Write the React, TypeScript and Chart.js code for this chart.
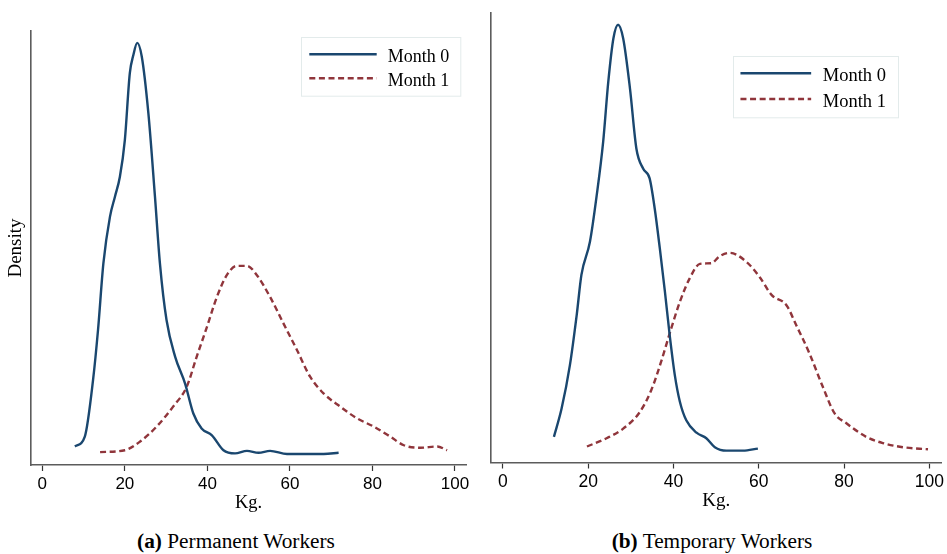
import React, { useEffect, useRef } from "react";
import { Chart, registerables } from "chart.js";

Chart.register(...registerables);

// ---------- data ----------
const xTickValues = [0, 20, 40, 60, 80, 100];
const seriesNames = ["Month 0", "Month 1"];

// (a) Permanent workers — kernel density estimates
const permM0Kg = [7.9, 10.3, 12.3, 13.5, 14.8, 16.4, 17.6, 18.8, 20, 21.2, 22.05, 23.0, 24.1, 25.7, 27.3, 28.5, 30.1, 32.2, 34.6, 36.6, 38.6, 41.1, 43.9, 46.7, 49.6, 52.4, 55.2, 59.3, 68.2, 71.8];
const permM0Den = [0.0012, 0.0028, 0.0119, 0.0199, 0.0306, 0.0381, 0.0413, 0.0445, 0.0504, 0.0611, 0.0640, 0.0660, 0.0638, 0.0547, 0.0413, 0.0306, 0.0215, 0.0156, 0.0113, 0.0065, 0.0041, 0.0030, 0.0006, 0.0001, 0.0005, 0.0002, 0.0005, 0.0000, 0.0000, 0.0002];
const permM1Kg = [14.0, 20, 23.7, 27.7, 31.7, 35, 37.4, 39.9, 42.3, 44.7, 47.1, 49.6, 52, 55.2, 58.4, 61.7, 64.9, 68.2, 72.2, 76.3, 80.3, 84.3, 87.6, 91.6, 95.7, 98.1];
const permM1Den = [0.0003, 0.0006, 0.0020, 0.0044, 0.0076, 0.0108, 0.0156, 0.0204, 0.0252, 0.0287, 0.0302, 0.0302, 0.0287, 0.0252, 0.0210, 0.0167, 0.0124, 0.0097, 0.0076, 0.0057, 0.0044, 0.0028, 0.0014, 0.0010, 0.0012, 0.0006];

// (b) Temporary workers — kernel density estimates
const tempM0Kg = [11.95, 13.75, 15.7, 17.3, 18.4, 20.4, 22.0, 23.5, 24.7, 25.9, 27.0, 28.2, 29.8, 31.3, 32.9, 34.4, 35.6, 36.8, 38.0, 39.1, 40.3, 41.5, 43.0, 45.4, 47.7, 49.7, 52.4, 56.3, 59.8];
const tempM0Den = [0.0022, 0.0063, 0.0126, 0.0199, 0.0257, 0.0305, 0.0373, 0.0450, 0.0537, 0.0600, 0.0620, 0.0600, 0.0527, 0.0440, 0.0411, 0.0397, 0.0353, 0.0295, 0.0232, 0.0170, 0.0112, 0.0073, 0.0046, 0.0028, 0.0020, 0.0007, 0.0002, 0.0002, 0.0005];
const tempM1Kg = [19.7, 24.3, 28.2, 32.1, 34.8, 37.2, 39.1, 41.5, 43.8, 46.2, 48.9, 50.8, 53.2, 57.1, 60.2, 63.0, 66.5, 68.8, 71.9, 75.0, 77.8, 80.5, 85.2, 89.1, 93.8, 99.7];
const tempM1Den = [0.0008, 0.0020, 0.0034, 0.0058, 0.0090, 0.0133, 0.0172, 0.0218, 0.0252, 0.0273, 0.0274, 0.0284, 0.0289, 0.0276, 0.0254, 0.0228, 0.0213, 0.0184, 0.0143, 0.0095, 0.0056, 0.0042, 0.0022, 0.0013, 0.0007, 0.0004];

// ---------- styling ----------
const NAVY = "#1a476f";
const MAROON = "#90353b";
const SERIF = '"Liberation Serif", "Times New Roman", serif';
const SANS = '"Liberation Sans", Arial, sans-serif';

const toPts = (xs: number[], ys: number[]) => xs.map((x, i) => ({ x, y: ys[i] }));

const boxLegend = {
  id: "boxLegend",
  afterDatasetsDraw(chart: any, _args: any, o: any) {
    const { ctx, chartArea } = chart;
    const bx = chartArea.right - o.right - o.width;
    const by = chartArea.top + o.top;
    ctx.save();
    ctx.fillStyle = "#ffffff";
    ctx.fillRect(bx, by, o.width, o.height);
    ctx.strokeStyle = "#e3ebeb";
    ctx.lineWidth = 1;
    ctx.strokeRect(Math.round(bx) + 0.5, Math.round(by) + 0.5, o.width, o.height);
    chart.data.datasets.forEach((ds: any, i: number) => {
      const y = by + o.rows[i];
      ctx.beginPath();
      ctx.setLineDash(ds.borderDash || []);
      ctx.strokeStyle = ds.borderColor;
      ctx.lineWidth = ds.borderWidth;
      ctx.moveTo(bx + o.lineX, y);
      ctx.lineTo(bx + o.lineX + o.lineLen, y);
      ctx.stroke();
      ctx.setLineDash([]);
      ctx.fillStyle = "#000";
      ctx.font = `${o.fontSize}px ${SERIF}`;
      ctx.textAlign = "left";
      ctx.textBaseline = "alphabetic";
      ctx.fillText(ds.label, bx + o.textX, y + o.baseOff);
    });
    ctx.restore();
  },
};

type PanelProps = {
  left: number;
  width: number;
  height: number;
  padTop: number;
  padRight: number;
  yWidth: number;
  xHeight: number;
  xMin: number;
  xMax: number;
  yMin: number;
  yMax: number;
  m0: { x: number; y: number }[];
  m1: { x: number; y: number }[];
  tickFont: number;
  xTitleFont: number;
  yTitle?: string;
  yTitleFont?: number;
  legend: any;
};

function Panel(p: PanelProps) {
  const ref = useRef<HTMLCanvasElement | null>(null);
  useEffect(() => {
    if (!ref.current) return;
    const chart = new Chart(ref.current, {
      type: "line",
      data: {
        datasets: [
          {
            label: seriesNames[0],
            data: p.m0,
            borderColor: NAVY,
            borderWidth: 2.4,
            pointRadius: 0,
            cubicInterpolationMode: "monotone",
            fill: false,
          },
          {
            label: seriesNames[1],
            data: p.m1,
            borderColor: MAROON,
            borderWidth: 2.4,
            borderDash: [6, 3.6],
            pointRadius: 0,
            cubicInterpolationMode: "monotone",
            fill: false,
          },
        ],
      },
      options: {
        responsive: false,
        maintainAspectRatio: false,
        animation: false,
        layout: { padding: { top: p.padTop, right: p.padRight, left: 0, bottom: 0 } },
        plugins: {
          legend: { display: false },
          tooltip: { enabled: false },
          boxLegend: p.legend,
        } as any,
        scales: {
          x: {
            type: "linear",
            min: p.xMin,
            max: p.xMax,
            afterBuildTicks: (s: any) => {
              s.ticks = xTickValues.map((v) => ({ value: v }));
            },
            afterFit: (s: any) => {
              s.height = p.xHeight;
            },
            ticks: {
              color: "#000",
              font: { family: SANS, size: p.tickFont },
              padding: 3,
              maxRotation: 0,
              autoSkip: false,
            },
            grid: {
              display: true,
              drawOnChartArea: false,
              drawTicks: true,
              tickLength: 6,
              tickColor: "#333",
              tickWidth: 1.2,
            },
            border: { display: true, color: "#5c5c5c", width: 1.6 },
            title: {
              display: true,
              text: "Kg.",
              color: "#000",
              font: { family: SERIF, size: p.xTitleFont },
              padding: { top: 0, bottom: 0 },
            },
          },
          y: {
            type: "linear",
            min: p.yMin,
            max: p.yMax,
            afterFit: (s: any) => {
              s.width = p.yWidth;
            },
            ticks: { display: false },
            grid: { display: false },
            border: { display: true, color: "#5c5c5c", width: 1.6 },
            title: {
              display: !!p.yTitle,
              text: p.yTitle || "",
              color: "#000",
              font: { family: SERIF, size: p.yTitleFont || 18 },
              padding: { top: 5, bottom: 0 },
            },
          },
        },
      },
      plugins: [boxLegend as any],
    });
    return () => chart.destroy();
  }, []);
  return (
    <canvas
      ref={ref}
      width={p.width}
      height={p.height}
      style={{ position: "absolute", left: p.left, top: 0, width: p.width, height: p.height }}
    />
  );
}

function Caption({ cx, label, text }: { cx: number; label: string; text: string }) {
  return (
    <div
      style={{
        position: "absolute",
        left: cx - 200,
        width: 400,
        top: 528,
        textAlign: "center",
        fontFamily: SERIF,
        fontSize: 21.3,
        lineHeight: "26px",
        color: "#000",
        whiteSpace: "nowrap",
      }}
    >
      <b>{label}</b> {text}
    </div>
  );
}

export default function App() {
  return (
    <div
      style={{
        position: "absolute",
        left: 0,
        top: 0,
        width: 947,
        height: 554,
        background: "#fff",
        overflow: "hidden",
      }}
    >
      <Panel
        left={0}
        width={475}
        height={514}
        padTop={31}
        padRight={9}
        yWidth={31}
        xHeight={514 - 465}
        xMin={-2.74}
        xMax={102.67}
        yMin={-0.00177}
        yMax={0.0679}
        m0={toPts(permM0Kg, permM0Den)}
        m1={toPts(permM1Kg, permM1Den)}
        tickFont={17}
        xTitleFont={18.5}
        yTitle="Density"
        yTitleFont={19}
        legend={{ right: 6, width: 159.3, top: 6.3, height: 58.7, rows: [17, 41], lineX: 8.6, lineLen: 67.4, textX: 87, fontSize: 18, baseOff: 7.5 }}
      />
      <Panel
        left={480}
        width={467}
        height={512}
        padTop={13}
        padRight={5}
        yWidth={11}
        xHeight={512 - 462.5}
        xMin={-2.81}
        xMax={102.86}
        yMin={-0.00152}
        yMax={0.0637}
        m0={toPts(tempM0Kg, tempM0Den)}
        m1={toPts(tempM1Kg, tempM1Den)}
        tickFont={17.5}
        xTitleFont={19}
        legend={{ right: 43.7, width: 165, top: 43, height: 61.3, rows: [17.3, 43], lineX: 7.7, lineLen: 70.7, textX: 90, fontSize: 18.5, baseOff: 7.8 }}
      />
      <Caption cx={236} label="(a)" text="Permanent Workers" />
      <Caption cx={712} label="(b)" text="Temporary Workers" />
    </div>
  );
}
